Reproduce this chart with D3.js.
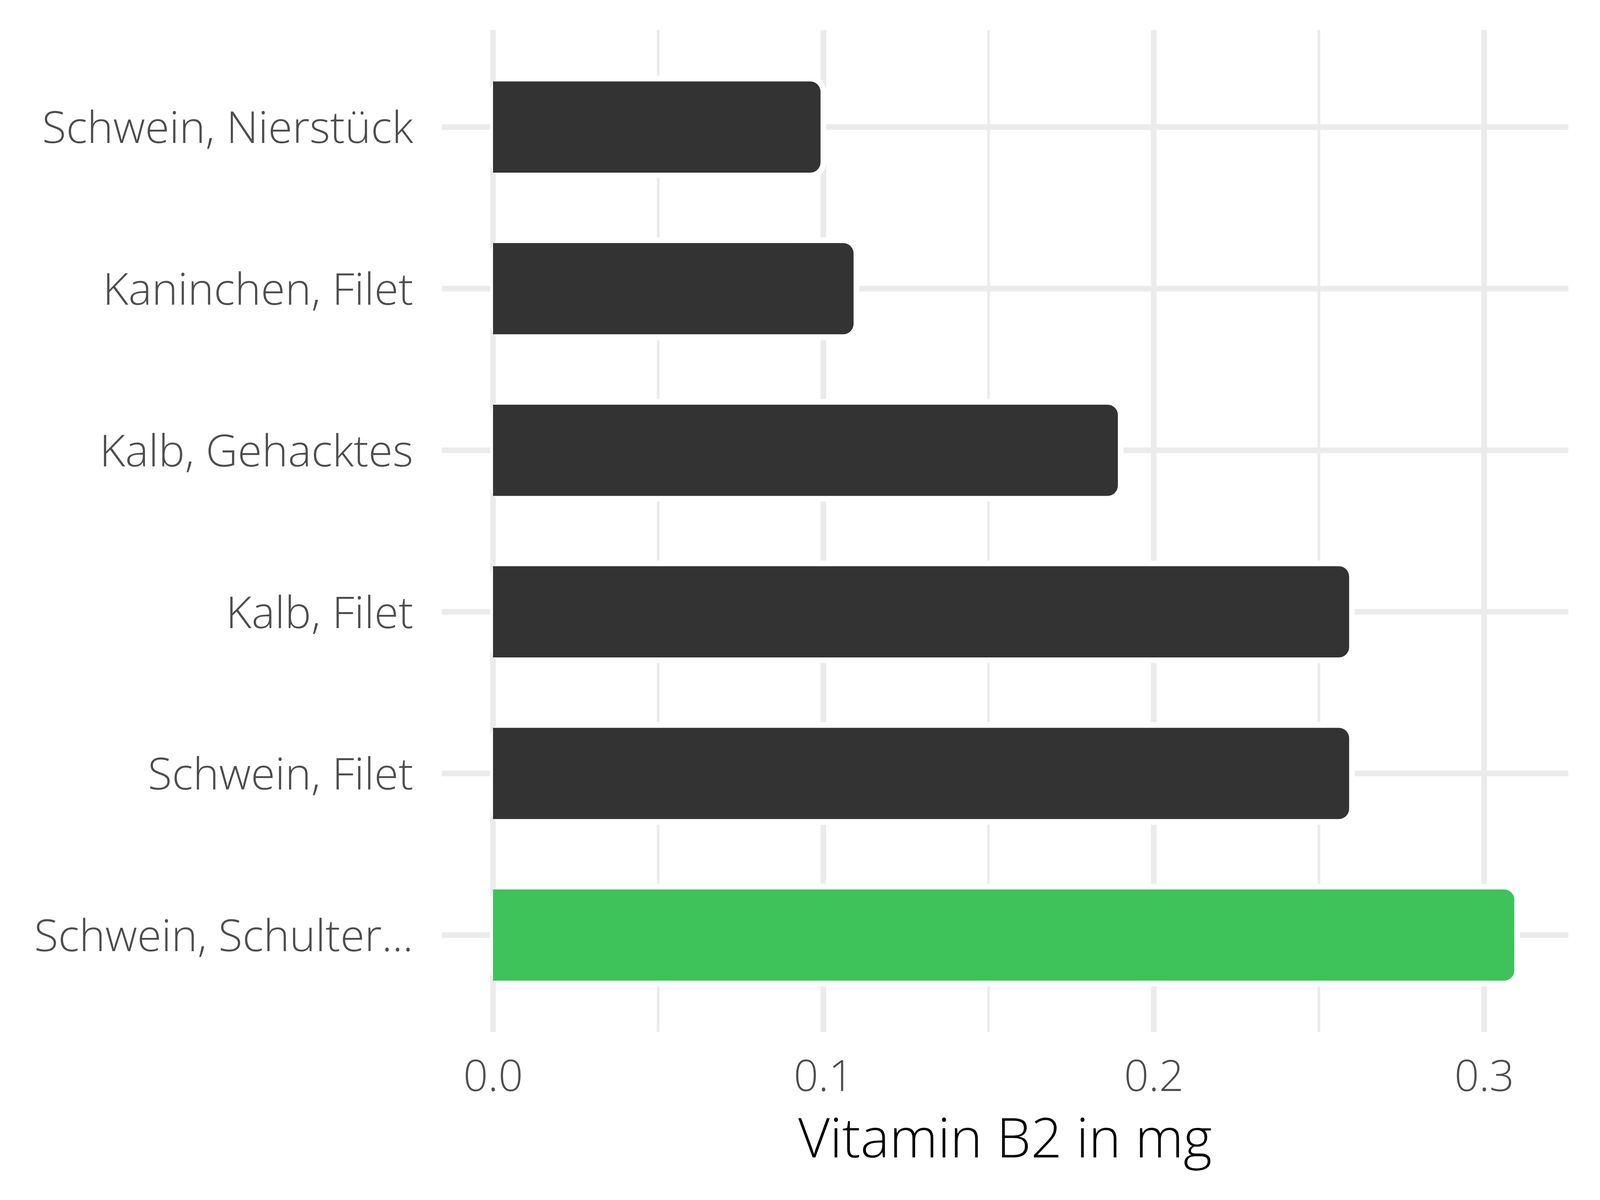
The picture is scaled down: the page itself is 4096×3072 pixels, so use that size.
<!DOCTYPE html>
<html>
<head>
<meta charset="utf-8">
<script src="https://cdn.jsdelivr.net/npm/d3@7"></script>
<style>
  html, body { margin: 0; padding: 0; background: #ffffff; }
  svg { display: block; }
</style>
</head>
<body>
<script>
// ---- data ----
const categories = ["Schwein, Nierstück", "Kaninchen, Filet", "Kalb, Gehacktes", "Kalb, Filet", "Schwein, Filet", "Schwein, Schulter..."];
const values = [0.10, 0.11, 0.19, 0.26, 0.26, 0.31];
const highlight = [false, false, false, false, false, true];
const xTicks = [0.0, 0.1, 0.2, 0.3];
const xMinor = [0.05, 0.15, 0.25];
const xTitle = "Vitamin B2 in mg";

// ---- layout ----
const W = 4096, H = 3072;
const panel = { left: 1131, right: 4015, top: 77, bottom: 2642 };
const FONT = "'Open Sans', 'Noto Sans', sans-serif";

const svg = d3.select("body").append("svg").attr("width", W).attr("height", H);
svg.append("rect").attr("width", W).attr("height", H).attr("fill", "#ffffff");

const maxV = d3.max(values);
const pad = 0.05 * maxV;
const x = d3.scaleLinear().domain([-pad, maxV + pad]).range([panel.left, panel.right]);
const y = d3.scalePoint().domain(categories).range([panel.top, panel.bottom]).padding(0.6);

const step = y.step();
const barH = 0.5645 * step;
const halo = 14.5;
const r = 26.5;

// grid
const grid = svg.append("g");
grid.selectAll("line.minor").data(xMinor).join("line")
  .attr("x1", d => x(d)).attr("x2", d => x(d))
  .attr("y1", panel.top).attr("y2", panel.bottom)
  .attr("stroke", "#ebebeb").attr("stroke-width", 7);
grid.selectAll("line.majx").data(xTicks).join("line")
  .attr("x1", d => x(d)).attr("x2", d => x(d))
  .attr("y1", panel.top).attr("y2", panel.bottom)
  .attr("stroke", "#ebebeb").attr("stroke-width", 14.5);
grid.selectAll("line.majy").data(categories).join("line")
  .attr("x1", panel.left).attr("x2", panel.right)
  .attr("y1", d => y(d)).attr("y2", d => y(d))
  .attr("stroke", "#ebebeb").attr("stroke-width", 14.5);

// bar shapes
function roundedRight(x0, x1, y0, y1, rad) {
  const rr = Math.min(rad, (x1 - x0), (y1 - y0) / 2);
  return `M${x0},${y0} H${x1 - rr} A${rr},${rr} 0 0 1 ${x1},${y0 + rr} V${y1 - rr} A${rr},${rr} 0 0 1 ${x1 - rr},${y1} H${x0} Z`;
}
function roundedAll(x0, x1, y0, y1, rad) {
  const rr = Math.min(rad, (x1 - x0) / 2, (y1 - y0) / 2);
  return `M${x0 + rr},${y0} H${x1 - rr} A${rr},${rr} 0 0 1 ${x1},${y0 + rr} V${y1 - rr} A${rr},${rr} 0 0 1 ${x1 - rr},${y1} H${x0 + rr} A${rr},${rr} 0 0 1 ${x0},${y1 - rr} V${y0 + rr} A${rr},${rr} 0 0 1 ${x0 + rr},${y0} Z`;
}

const rows = categories.map((c, i) => ({ c, v: values[i], hi: highlight[i] }));
const bars = svg.append("g");
bars.selectAll("path.halo").data(rows).join("path")
  .attr("class", "halo")
  .attr("d", d => {
    const yc = y(d.c);
    return roundedAll(x(0) - halo * 0.5, x(d.v) + halo * 0.5, yc - barH / 2 - halo, yc + barH / 2 + halo, r + halo);
  })
  .attr("fill", "#ffffff");
bars.selectAll("path.bar").data(rows).join("path")
  .attr("class", "bar")
  .attr("d", d => {
    const yc = y(d.c);
    return roundedRight(x(0), x(d.v) - halo * 0.5, yc - barH / 2, yc + barH / 2, r);
  })
  .attr("fill", d => d.hi ? "#3ec35a" : "#333333");

// x axis
const xAxis = svg.append("g")
  .attr("transform", `translate(0,${panel.bottom})`)
  .call(d3.axisBottom(x).tickValues(xTicks).tickFormat(d3.format(".1f")).tickSize(0));
xAxis.select(".domain").remove();
xAxis.selectAll("text")
  .attr("y", 151).attr("dy", null)
  .attr("font-family", FONT).attr("font-weight", 300).attr("font-size", 111)
  .attr("fill", "#4d4d4d");

// y axis
const yAxis = svg.append("g")
  .attr("transform", `translate(${panel.left},0)`)
  .call(d3.axisLeft(y).tickSize(0));
yAxis.select(".domain").remove();
yAxis.selectAll("text")
  .attr("x", -73).attr("dy", "0.36em")
  .attr("font-family", FONT).attr("font-weight", 300).attr("font-size", 113)
  .attr("fill", "#4d4d4d").attr("text-anchor", "end");

// x title
svg.append("text")
  .attr("x", (panel.left + panel.right) / 2)
  .attr("y", 2963)
  .attr("text-anchor", "middle")
  .attr("font-family", FONT).attr("font-weight", 300).attr("font-size", 140)
  .attr("fill", "#000000")
  .text(xTitle);
</script>
</body>
</html>
